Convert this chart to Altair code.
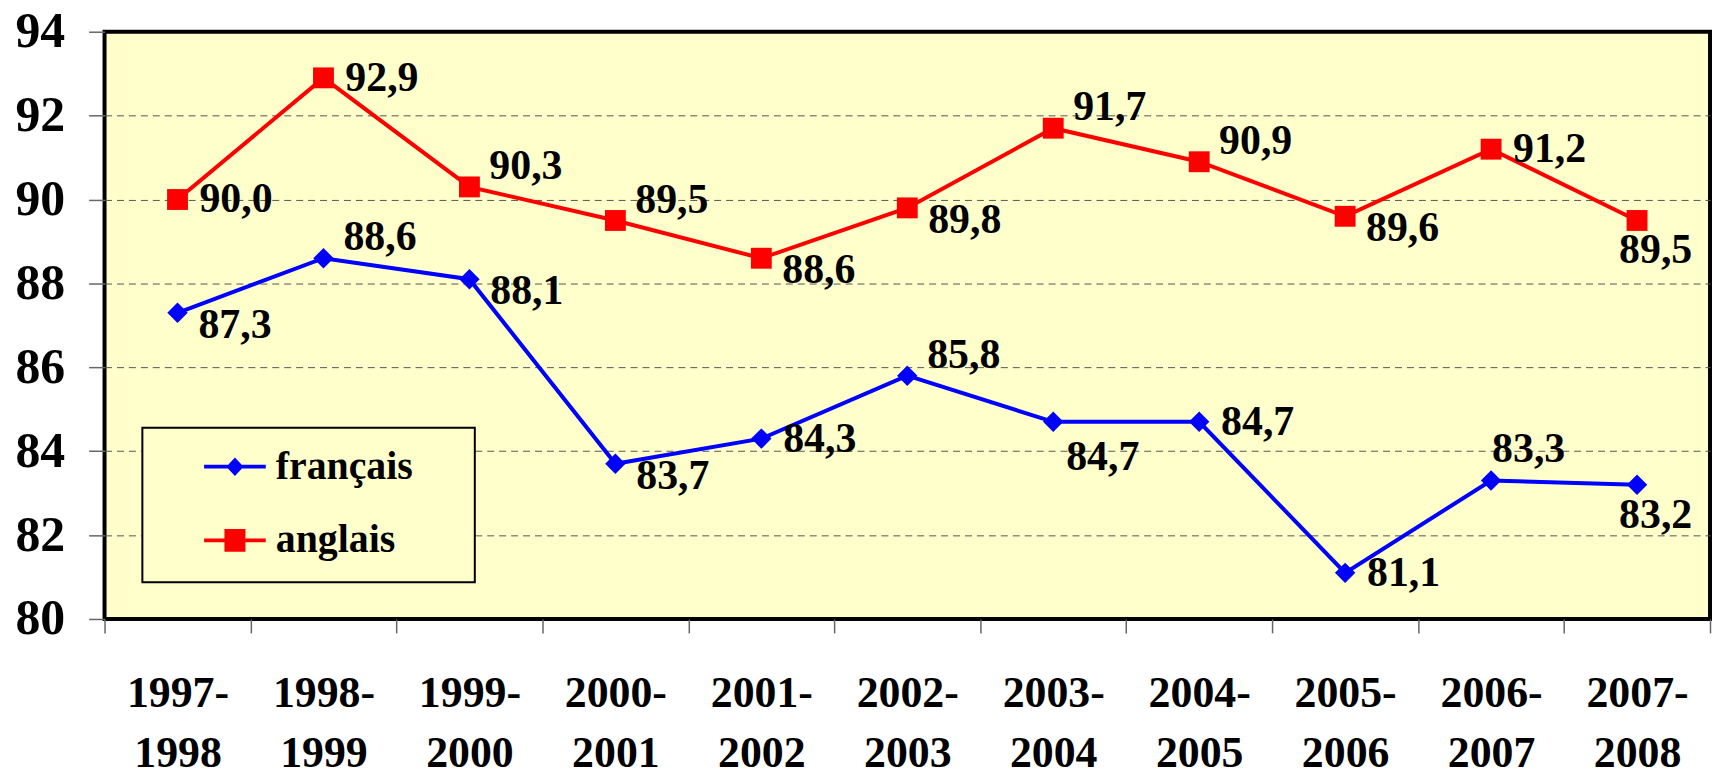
import altair as alt
import pandas as pd

# ---- data ----
years = ["1997-1998", "1998-1999", "1999-2000", "2000-2001", "2001-2002",
         "2002-2003", "2003-2004", "2004-2005", "2005-2006", "2006-2007", "2007-2008"]
francais = [87.3, 88.6, 88.1, 83.7, 84.3, 85.8, 84.7, 84.7, 81.1, 83.3, 83.2]
anglais = [90.0, 92.9, 90.3, 89.5, 88.6, 89.8, 91.7, 90.9, 89.6, 91.2, 89.5]
series = ["français", "anglais"]
y_ticks = [80, 82, 84, 86, 88, 90, 92, 94]

# label placement class for each point (layout only)
pos_fr = ["RD", "RU", "RD", "RD", "R", "RU", "RB", "R", "R", "A", "B"]
pos_en = ["R", "R", "RU", "RU", "RD", "RD", "RU", "RU", "RD", "R", "B"]
offsets = {"R": (22, 0), "RU": (20, -21), "RD": (21, 12), "RB": (13, 35),
           "A": (1, -32), "B": (-18, 30)}

colors = {"français": "#0000FF", "anglais": "#FF0000"}
markers = {"français": ("diamond", 420), "anglais": ("square", 440)}

rows = []
for s, vals, poss in [("français", francais, pos_fr), ("anglais", anglais, pos_en)]:
    for yr, v, p in zip(years, vals, poss):
        rows.append({"year": yr, "serie": s, "value": v,
                     "label": f"{v:.1f}".replace(".", ","), "pos": p})
df = pd.DataFrame(rows)

FONT = "Liberation Serif, Times New Roman, serif"

x_enc = alt.X(
    "year:N", sort=years, bandPosition=0.5,
    scale=alt.Scale(type="band", paddingInner=0, paddingOuter=0),
    axis=alt.Axis(title=None, labelAngle=0,
                  labelExpr="[slice(datum.label,0,5), slice(datum.label,5)]",
                  tickBand="extent", tickSize=14, tickColor="#666666", tickWidth=1.5,
                  labelFont=FONT, labelFontSize=44, labelFontWeight="bold",
                  labelColor="black", labelPadding=39, labelLineHeight=60,
                  domain=False, grid=False),
)
y_enc = alt.Y(
    "value:Q",
    scale=alt.Scale(domain=[80, 94], nice=False, zero=False),
    axis=alt.Axis(title=None, values=y_ticks, tickSize=16, tickColor="#666666",
                  tickWidth=1.5, labelPadding=24, labelFont=FONT, labelFontSize=50,
                  labelFontWeight="bold", labelColor="black", domain=False,
                  grid=True, gridDash=[7, 5], gridColor="#555555", gridWidth=1,
                  gridOpacity={"condition": {"test": "datum.value == 80 || datum.value == 94",
                                             "value": 0}, "value": 1}),
)

base = alt.Chart(df)
layers = []
for s in series:
    sub = base.transform_filter(alt.datum.serie == s)
    layers.append(sub.mark_line(color=colors[s], strokeWidth=4).encode(x=x_enc, y=y_enc))
for s in series:
    sub = base.transform_filter(alt.datum.serie == s)
    shp, sz = markers[s]
    layers.append(sub.mark_point(filled=True, shape=shp, size=sz, color=colors[s],
                                 opacity=1).encode(x=x_enc, y=y_enc))
for code, (dx, dy) in offsets.items():
    layers.append(
        base.transform_filter(alt.datum.pos == code)
        .mark_text(align="left", baseline="middle", dx=dx, dy=dy, font=FONT,
                   fontSize=42, fontWeight="bold", color="black")
        .encode(x=x_enc, y=y_enc, text="label:N")
    )

# legend (symbol = line segment + marker); an invisible bottom title sizes the box
path_fr = "M-1,-0.06H1V0.06H-1Z M-0.28,0L0,-0.3L0.28,0L0,0.3Z"
path_en = "M-1,-0.06H1V0.06H-1Z M-0.34,-0.37H0.34V0.37H-0.34Z"
leg = alt.Legend(title="M" * 42, titleOrient="bottom", titleFontSize=8, titlePadding=6,
                 titleOpacity=0, titleFont=FONT, titleFontWeight="bold", titleLimit=2000,
                 orient="none", legendX=38, legendY=398, direction="vertical",
                 fillColor="#FFFFCC", strokeColor="black", padding=8,
                 symbolOffset=54, symbolSize=3844, symbolStrokeWidth=0,
                 labelFont=FONT, labelFontSize=40, labelFontWeight="bold",
                 labelColor="black", labelOffset=10, rowPadding=23, labelLimit=0)
legend_layer = base.transform_filter("false").mark_point(filled=True, opacity=1).encode(
    x=x_enc, y=y_enc,
    color=alt.Color("serie:N", scale=alt.Scale(domain=series, range=[colors[s] for s in series]),
                    legend=leg),
    shape=alt.Shape("serie:N", scale=alt.Scale(domain=series, range=[path_fr, path_en]),
                    legend=leg),
)
layers.append(legend_layer)

chart = alt.layer(*layers).properties(
    width=1613, height=590,
    autosize=alt.AutoSizeParams(type="none"),
    padding={"left": 97, "top": 22, "right": 3, "bottom": 170},
).configure_view(stroke="black", strokeWidth=4, fill="#FFFFCC").configure_legend(strokeWidth=2)

chart.save("out.html", embed_options={"renderer": "svg", "actions": False})
